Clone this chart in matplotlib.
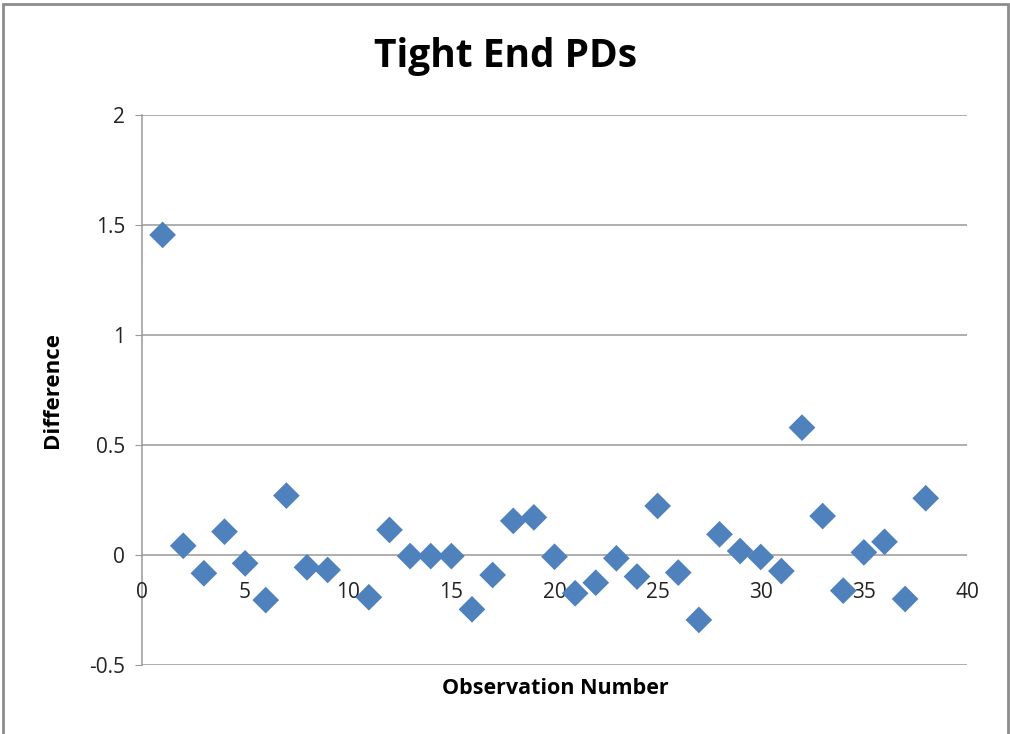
import matplotlib
matplotlib.use("Agg")
import matplotlib.pyplot as plt
from matplotlib.patches import Rectangle

obs = [1, 2, 3, 4, 5, 6, 7, 8, 9, 11, 12, 13, 14, 15, 16, 17, 18, 19, 20,
       21, 22, 23, 24, 25, 26, 27, 28, 29, 30, 31, 32, 33, 34, 35, 36, 37, 38]
diff = [1.455, 0.042, -0.083, 0.106, -0.038, -0.205, 0.270, -0.056, -0.068,
        -0.192, 0.114, -0.005, -0.005, -0.005, -0.247, -0.091, 0.155, 0.171,
        -0.008, -0.174, -0.126, -0.015, -0.098, 0.223, -0.080, -0.295, 0.094,
        0.018, -0.009, -0.073, 0.579, 0.177, -0.162, 0.012, 0.060, -0.200, 0.258]
x_ticks = [0, 5, 10, 15, 20, 25, 30, 35, 40]
y_ticks = [-0.5, 0, 0.5, 1, 1.5, 2]
y_labels = ["-0.5", "0", "0.5", "1", "1.5", "2"]

plt.rcParams['font.family'] = ['Open Sans', 'DejaVu Sans']

fig = plt.figure(figsize=(10.10, 7.34), dpi=100)
fig.patch.set_facecolor('white')
fig.patches.append(Rectangle((0.003, -0.01), 0.995, 1.005, transform=fig.transFigure,
                             fill=False, edgecolor='#8c8c8c', linewidth=2))

ax = fig.add_axes([142/1010, 1-665/734, (967-142)/1010, (665-115)/734])
ax.set_xlim(0, 40)
ax.set_ylim(-0.5, 2)

grid_c = '#999999'
for y in y_ticks:
    ax.axhline(y, color=grid_c, linewidth=1.1, zorder=1)

for s in ['top', 'right', 'bottom']:
    ax.spines[s].set_visible(False)
ax.spines['left'].set_color(grid_c)
ax.spines['left'].set_linewidth(1.1)

ax.set_yticks(y_ticks)
ax.set_yticklabels(y_labels)
ax.tick_params(axis='y', length=5, color=grid_c, labelsize=15, pad=7, labelcolor='#222222')

ax.set_xticks([])
for xv in x_ticks:
    ax.text(xv, -0.17, str(xv), ha='center', va='center', fontsize=15, color='#222222')

ax.scatter(obs, diff, marker='D', s=185, color='#4F81BD', edgecolors='none', zorder=3, clip_on=False)

fig.text(506/1010, 1-56/734, 'Tight End PDs', ha='center', va='center',
         fontsize=28, fontweight='bold', color='black')
fig.text(555/1010, 1-688/734, 'Observation Number', ha='center', va='center',
         fontsize=15.5, fontweight='bold', color='black')
fig.text(52/1010, 1-390/734, 'Difference', ha='center', va='center', rotation=90,
         fontsize=16, fontweight='bold', color='black')

fig.savefig('out.png', dpi=100)
